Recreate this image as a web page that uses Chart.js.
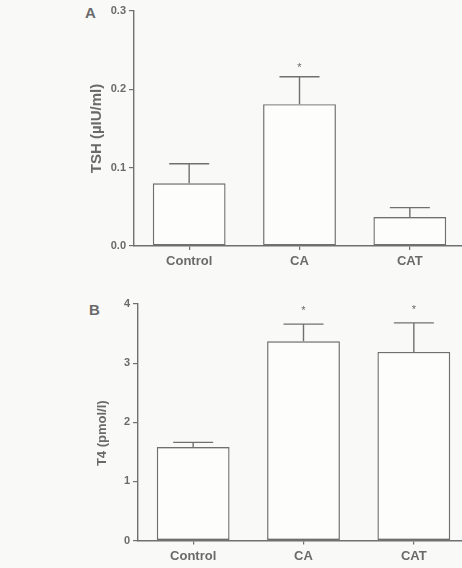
<!DOCTYPE html>
<html>
<head>
<meta charset="utf-8">
<script src="https://cdn.jsdelivr.net/npm/chart.js@4.4.0/dist/chart.umd.min.js"></script>
<style>
  html, body { margin: 0; padding: 0; width: 462px; height: 568px; overflow: hidden; background: #f9f9f8; }
  .panel { position: absolute; }
  .letter { position: absolute; font-family: "Liberation Sans", Arial, sans-serif; font-weight: bold; color: #6a6a6a; }
</style>
</head>
<body>
<div class="letter" style="left:85px; top:4px; font-size:15px;">A</div>
<div class="letter" style="left:89px; top:301px; font-size:15px;">B</div>
<canvas id="chartA" class="panel" width="465" height="285" style="left:0; top:0;"></canvas>
<canvas id="chartB" class="panel" width="469" height="278" style="left:0; top:290px;"></canvas>
<script>
// ----- data -----
const categories = ['Control', 'CA', 'CAT'];

const tshMean = [0.080, 0.181, 0.037];
const tshErr  = [0.025, 0.035, 0.012];
const tshSig  = ['', '*', ''];
const tshTitle = 'TSH (\u00b5IU/ml)';

const t4Mean = [1.58, 3.37, 3.19];
const t4Err  = [0.08, 0.29, 0.49];
const t4Sig  = ['', '*', '*'];
const t4Title = 'T4 (pmol/l)';

// ----- styles -----
const INK = '#6a6a6a';
const LINE = '#707070';
const FONT = '"Liberation Sans", Arial, sans-serif';

const errorBarPlugin = {
  id: 'errorBars',
  afterDatasetsDraw(chart, args, opts) {
    const ctx = chart.ctx;
    const meta = chart.getDatasetMeta(0);
    const y = chart.scales.y;
    ctx.save();
    ctx.strokeStyle = LINE;
    ctx.lineWidth = 1.4;
    meta.data.forEach((bar, i) => {
      const m = opts.means[i], e = opts.errs[i];
      const x = bar.x;
      const y0 = y.getPixelForValue(m);
      const y1 = y.getPixelForValue(m + e);
      ctx.beginPath();
      ctx.moveTo(x, y0);
      ctx.lineTo(x, y1);
      ctx.moveTo(x - opts.cap / 2, y1);
      ctx.lineTo(x + opts.cap / 2, y1);
      ctx.stroke();
      if (opts.sig[i]) {
        ctx.fillStyle = INK;
        ctx.font = '11px ' + FONT;
        ctx.textAlign = 'center';
        ctx.textBaseline = 'middle';
        ctx.fillText(opts.sig[i], x, y1 - opts.sigGap);
      }
    });
    ctx.restore();
  }
};

const yTitlePlugin = {
  id: 'yTitle',
  afterDraw(chart, args, opts) {
    const ctx = chart.ctx;
    const area = chart.chartArea;
    ctx.save();
    ctx.translate(opts.x, (area.top + area.bottom) / 2 + opts.dy);
    ctx.rotate(-Math.PI / 2);
    ctx.fillStyle = INK;
    ctx.font = 'bold ' + opts.size + 'px ' + FONT;
    ctx.textAlign = 'center';
    ctx.textBaseline = 'middle';
    ctx.fillText(opts.text, 0, 0);
    ctx.restore();
  }
};

function makeChart(id, means, errs, sig, title, yMax, step, decimals, cfg) {
  return new Chart(document.getElementById(id), {
    type: 'bar',
    data: {
      labels: categories,
      datasets: [{
        data: means,
        backgroundColor: 'rgba(255,255,255,0.6)',
        borderColor: LINE,
        borderWidth: 1.4,
        borderSkipped: false,
        categoryPercentage: 1,
        barPercentage: 0.66
      }]
    },
    options: {
      responsive: false,
      animation: false,
      devicePixelRatio: 1,
      layout: { padding: { top: cfg.top, right: 0, bottom: 0, left: 0 } },
      plugins: {
        legend: { display: false },
        tooltip: { enabled: false },
        errorBars: { means: means, errs: errs, sig: sig, cap: 40, sigGap: cfg.sigGap },
        yTitle: { text: title, x: cfg.titleX, dy: cfg.titleDy, size: cfg.titleSize }
      },
      scales: {
        x: {
          afterFit(s) { s.height = cfg.xh; },
          grid: { display: true, drawOnChartArea: false, offset: false, tickLength: 4, color: LINE, lineWidth: 1.2 },
          border: { display: true, color: LINE, width: 1.4 },
          ticks: { color: INK, padding: 4, font: { family: FONT, size: 13, weight: 'bold' } }
        },
        y: {
          min: 0, max: yMax,
          afterFit(s) { s.width = cfg.yw; },
          grid: { display: true, drawOnChartArea: false, tickLength: 5, color: LINE, lineWidth: 1.2 },
          border: { display: true, color: LINE, width: 1.4 },
          ticks: {
            stepSize: step, color: INK, padding: 3,
            font: { family: FONT, size: 11, weight: 'bold' },
            callback: v => Number(v).toFixed(decimals)
          },
          title: { display: false }
        }
      }
    },
    plugins: [errorBarPlugin, yTitlePlugin]
  });
}

makeChart('chartA', tshMean, tshErr, tshSig, tshTitle, 0.3, 0.1, 1,
  { top: 11, xh: 39, yw: 134, titleX: 97, titleDy: 0, titleSize: 15, sigGap: 9 });
makeChart('chartB', t4Mean, t4Err, t4Sig, t4Title, 4, 1, 0,
  { top: 14, xh: 27.5, yw: 138, titleX: 102, titleDy: 11, titleSize: 13, sigGap: 13 });
</script>
</body>
</html>
